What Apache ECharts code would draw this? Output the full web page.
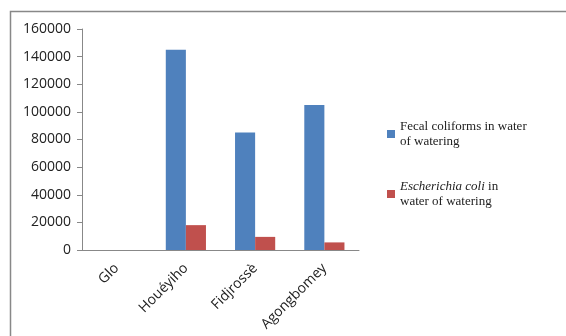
<!DOCTYPE html>
<html>
<head>
<meta charset="utf-8">
<script src="https://cdn.jsdelivr.net/npm/echarts@6/dist/echarts.min.js"></script>
<style>
html, body { margin: 0; padding: 0; background: #fff; }
#chart { width: 566px; height: 336px; }
</style>
</head>
<body>
<div id="chart"></div>
<script>
var sites = ['Glo', 'Houéyiho', 'Fidjrossè', 'Agongbomey'];
var fecalColiforms = [0, 145000, 85000, 105000];
var eColi = [0, 18000, 9500, 5500];
var yTicks = { min: 0, max: 160000, step: 20000 };

var myChart = echarts.init(document.getElementById('chart'));

var option = {
    animation: false,
    color: ['#4F81BD', '#C0504D'],
    textStyle: { fontFamily: 'Open Sans' },
    graphic: [
        {
            // chart frame: only the top and left edges are in the picture
            type: 'polyline',
            shape: { points: [[10.5, 340], [10.5, 11.5], [570, 11.5]] },
            style: { fill: null, stroke: '#888', lineWidth: 1.5 },
            silent: true
        }
    ],
    legend: {
        orient: 'vertical',
        left: 382,
        top: 114,
        itemWidth: 8,
        itemHeight: 8,
        itemGap: 30,
        icon: 'rect',
        textStyle: {
            fontFamily: 'Liberation Serif',
            fontSize: 13,
            color: '#222',
            lineHeight: 15,
            rich: {
                i: { fontFamily: 'Liberation Serif', fontSize: 13, fontStyle: 'italic', color: '#222', lineHeight: 15 },
                n: { fontFamily: 'Liberation Serif', fontSize: 13, color: '#222', lineHeight: 15 }
            }
        },
        formatter: function (name) {
            if (name == 'fc') return '{n|Fecal coliforms in water}\n{n|of watering}';
            return '{i|Escherichia coli}{n| in}\n{n|water of watering}';
        },
        data: ['fc', 'ec']
    },
    grid: {
        left: 82,
        right: 207,
        top: 29,
        bottom: 86
    },
    xAxis: {
        type: 'category',
        data: sites,
        axisLine: { lineStyle: { color: '#888' } },
        axisTick: { length: 5, lineStyle: { color: '#888' } },
        axisLabel: {
            rotate: 45,
            interval: 0,
            color: '#222',
            fontSize: 14,
            margin: 16
        }
    },
    yAxis: {
        type: 'value',
        min: yTicks.min,
        max: yTicks.max,
        interval: yTicks.step,
        splitLine: { show: false },
        axisLine: { show: true, lineStyle: { color: '#888' } },
        axisTick: { show: true, length: 5, lineStyle: { color: '#888' } },
        axisLabel: {
            color: '#222',
            fontSize: 14,
            margin: 11,
            formatter: function (v) { return String(v); }
        }
    },
    series: [
        {
            name: 'fc',
            type: 'bar',
            data: fecalColiforms,
            barGap: '0%',
            barCategoryGap: '42%'
        },
        {
            name: 'ec',
            type: 'bar',
            data: eColi
        }
    ]
};

myChart.setOption(option);
</script>
</body>
</html>
